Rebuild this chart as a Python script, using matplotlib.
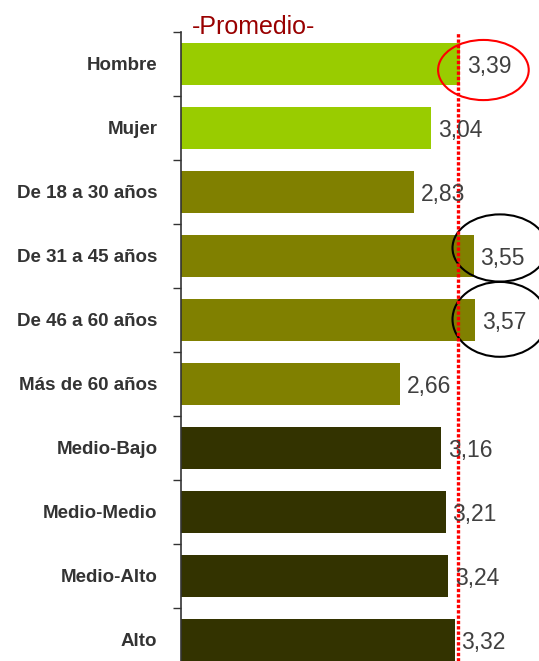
import matplotlib
matplotlib.use("Agg")
import matplotlib.pyplot as plt
from matplotlib.patches import Ellipse
import numpy as np

plt.rcParams['font.family'] = ['Liberation Sans', 'DejaVu Sans']

# data
categorias = ['Hombre', 'Mujer', 'De 18 a 30 años', 'De 31 a 45 años',
              'De 46 a 60 años', 'Más de 60 años', 'Medio-Bajo',
              'Medio-Medio', 'Medio-Alto', 'Alto']
valores = [3.39, 3.04, 2.83, 3.55, 3.57, 2.66, 3.16, 3.21, 3.24, 3.32]
colores = ['#99CC00'] * 2 + ['#808000'] * 4 + ['#333300'] * 4
promedio = 3.36

W, H = 539, 661
fig = plt.figure(figsize=(W / 100, H / 100), dpi=100)
# axes: left spine at x=181px, top at y=32px, runs off the bottom edge
ax = fig.add_axes([181 / W, 0, (W - 181) / W, (H - 32) / H])

y = np.arange(len(categorias))
ax.barh(y, valores, height=0.67, color=colores)

# value labels
for yi, v in zip(y, valores):
    ax.annotate(f'{v:.2f}'.replace('.', ','), (v, yi), xytext=(5, -1.5),
                textcoords='offset points', va='center', ha='left',
                fontsize=16.5, color='#404040')

# ticks at category boundaries, labels at centers
ax.set_yticks(np.arange(-0.5, len(categorias), 1))
ax.set_yticklabels([])
ax.tick_params(axis='y', which='major', length=6, width=1, color='#333333')
ax.set_yticks(y, minor=True)
ax.set_yticklabels(categorias, minor=True, fontsize=13.5, fontweight='bold',
                   color='#333333')
ax.tick_params(axis='y', which='minor', length=0, pad=17)
ax.set_xticks([])

# limits last, set_yticks would widen them
ax.set_xlim(0, (W - 181) / 82.4)
ax.set_ylim(-0.5 + (H - 32) / 64, -0.5)

for s in ['top', 'right', 'bottom']:
    ax.spines[s].set_visible(False)
ax.spines['left'].set_color('#333333')
ax.spines['left'].set_linewidth(1.2)

# average line
ax.axvline(promedio, color='#FF0000', lw=2.4, linestyle=(0, (1, 0.6)),
           clip_on=False)
fig.text(192 / W, 1 - 34 / H, '-Promedio-', color='#990000', fontsize=18,
         va='baseline', ha='left')

# highlight circles
ax.add_patch(Ellipse((3.67, 0.094), 1.10, 0.94, fill=False,
                     edgecolor='#FF0000', lw=1.5, clip_on=False))
ax.add_patch(Ellipse((3.87, 2.875), 1.15, 1.05, fill=False,
                     edgecolor='black', lw=1.5, clip_on=False))
ax.add_patch(Ellipse((3.87, 3.99), 1.15, 1.17, fill=False,
                     edgecolor='black', lw=1.5, clip_on=False))

fig.savefig('out.png', dpi=100)
